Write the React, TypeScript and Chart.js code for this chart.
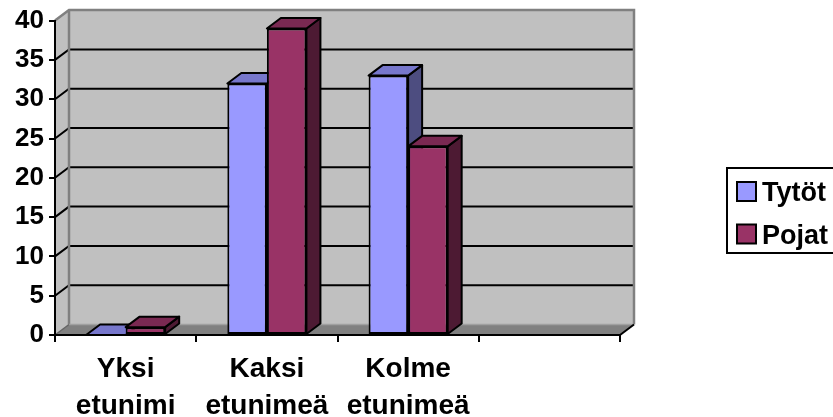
import React, { useEffect, useRef } from "react";
import { Chart, registerables } from "chart.js";

Chart.register(...registerables);

const categories: (string | string[])[] = [
  ["Yksi", "etunimi"],
  ["Kaksi", "etunimeä"],
  ["Kolme", "etunimeä"],
  "",
];
const seriesNames = ["Tytöt", "Pojat"];
const tytot: (number | null)[] = [0, 32, 33, null];
const pojat: (number | null)[] = [1, 39, 24, null];
const yMin = 0;
const yMax = 40;
const yStep = 5;

const frontColors = ["#9999FF", "#993366"];
const topColors = ["#7777CC", "#7A2952"];
const sideColors = ["#4D4D80", "#4D1A33"];

const FONT = "'Liberation Sans', Arial, sans-serif";
const DX = 14;
const DY = -10.5;

function poly(ctx: CanvasRenderingContext2D, pts: number[][]) {
  ctx.beginPath();
  ctx.moveTo(pts[0][0], pts[0][1]);
  for (let i = 1; i < pts.length; i++) ctx.lineTo(pts[i][0], pts[i][1]);
  ctx.closePath();
}

const depthPlugin = {
  id: "depth3d",
  beforeDraw(chart: any) {
    const { ctx, chartArea: a, scales } = chart;
    const y = scales.y;
    const L = a.left, R = a.right, T = a.top, B = a.bottom;
    ctx.save();
    ctx.fillStyle = "#C0C0C0";
    ctx.fillRect(L + DX, T + DY, R - L, B - T);
    poly(ctx, [[L, T], [L + DX, T + DY], [L + DX, B + DY], [L, B]]);
    ctx.fill();
    ctx.fillStyle = "#808080";
    poly(ctx, [[L, B], [R, B], [R + DX, B + DY], [L + DX, B + DY]]);
    ctx.fill();
    ctx.strokeStyle = "#000";
    ctx.lineWidth = 2;
    for (let v = yMin + yStep; v < yMax; v += yStep) {
      const py = y.getPixelForValue(v);
      ctx.beginPath();
      ctx.moveTo(L, py);
      ctx.lineTo(L + DX, py + DY);
      ctx.lineTo(R + DX, py + DY);
      ctx.stroke();
    }
    ctx.strokeStyle = "#808080";
    ctx.lineWidth = 2.5;
    ctx.beginPath();
    ctx.moveTo(L, T);
    ctx.lineTo(L + DX, T + DY);
    ctx.lineTo(R + DX, T + DY);
    ctx.lineTo(R + DX, B + DY);
    ctx.stroke();
    ctx.beginPath();
    ctx.moveTo(L + DX, T + DY);
    ctx.lineTo(L + DX, B + DY);
    ctx.stroke();
    ctx.strokeStyle = "#A0A0A0";
    ctx.lineWidth = 1.5;
    ctx.beginPath();
    ctx.moveTo(L + DX, B + DY);
    ctx.lineTo(R + DX, B + DY);
    ctx.stroke();
    ctx.strokeStyle = "#666";
    ctx.beginPath();
    ctx.moveTo(L, B);
    ctx.lineTo(L + DX, B + DY);
    ctx.stroke();
    ctx.strokeStyle = "#000";
    ctx.lineWidth = 2;
    ctx.beginPath();
    ctx.moveTo(R, B);
    ctx.lineTo(R + DX, B + DY);
    ctx.stroke();
    ctx.restore();
  },
  beforeDatasetsDraw(chart: any) {
    const { ctx } = chart;
    const n = chart.data.labels.length;
    ctx.save();
    ctx.strokeStyle = "#000";
    ctx.lineWidth = 2;
    ctx.lineJoin = "round";
    for (let i = 0; i < n; i++) {
      chart.data.datasets.forEach((ds: any, di: number) => {
        if (ds.data[i] === null || ds.data[i] === undefined) return;
        const el = chart.getDatasetMeta(di).data[i];
        const left = el.x - el.width / 2;
        const right = el.x + el.width / 2;
        const top = el.y;
        const base = el.base;
        ctx.fillStyle = sideColors[di];
        poly(ctx, [[right, top], [right + DX, top + DY], [right + DX, base + DY], [right, base]]);
        ctx.fill();
        ctx.stroke();
        ctx.fillStyle = topColors[di];
        poly(ctx, [[left, top], [right, top], [right + DX, top + DY], [left + DX, top + DY]]);
        ctx.fill();
        ctx.stroke();
      });
    }
    ctx.restore();
  },
  afterDraw(chart: any) {
    const { ctx } = chart;
    ctx.save();
    ctx.strokeStyle = "#000";
    ctx.lineWidth = 2;
    ctx.strokeRect(727, 168, 200, 85);
    ctx.font = `bold 27px ${FONT}`;
    ctx.textBaseline = "alphabetic";
    ctx.textAlign = "left";
    const rows = [182, 224.5];
    seriesNames.forEach((name, i) => {
      ctx.fillStyle = frontColors[i];
      ctx.fillRect(737, rows[i], 19, 19);
      ctx.strokeRect(737, rows[i], 19, 19);
      ctx.fillStyle = "#000";
      ctx.fillText(name, 762, rows[i] + 19);
    });
    ctx.restore();
  },
};

export default function App() {
  const ref = useRef<HTMLCanvasElement>(null);
  useEffect(() => {
    if (!ref.current) return;
    const chart = new Chart(ref.current, {
      type: "bar",
      data: {
        labels: categories,
        datasets: [
          {
            label: seriesNames[0],
            data: tytot,
            backgroundColor: frontColors[0],
            borderColor: "#000",
            borderWidth: 2,
            borderSkipped: false,
          },
          {
            label: seriesNames[1],
            data: pojat,
            backgroundColor: frontColors[1],
            borderColor: "#000",
            borderWidth: 2,
            borderSkipped: false,
          },
        ],
      },
      options: {
        responsive: false,
        animation: false,
        devicePixelRatio: 1,
        layout: { padding: { left: 0, top: 19, right: 213, bottom: 0 } },
        datasets: {
          bar: { barPercentage: 1, categoryPercentage: 0.56 },
        },
        plugins: {
          legend: { display: false },
          tooltip: { enabled: false },
          title: { display: false },
        },
        scales: {
          x: {
            offset: true,
            grid: {
              display: true,
              drawOnChartArea: false,
              drawTicks: true,
              tickLength: 7,
              color: "#000",
              lineWidth: 2,
              offset: true,
            },
            border: { display: true, color: "#000", width: 2 },
            ticks: {
              color: "#000",
              font: { family: FONT, size: 28, weight: "bold", lineHeight: 1.35 },
              maxRotation: 0,
              autoSkip: false,
              padding: 8,
            },
            afterFit(scale: any) {
              scale.height = 82;
            },
          },
          y: {
            min: yMin,
            max: yMax,
            grid: {
              display: true,
              drawOnChartArea: false,
              drawTicks: true,
              tickLength: 6,
              color: "#000",
              lineWidth: 2,
            },
            border: { display: true, color: "#000", width: 2 },
            ticks: {
              stepSize: yStep,
              color: "#000",
              font: { family: FONT, size: 26, weight: "bold" },
              padding: 5,
            },
            afterFit(scale: any) {
              scale.width = 55;
            },
          },
        },
      },
      plugins: [depthPlugin],
    });
    return () => chart.destroy();
  }, []);
  return (
    <div style={{ position: "fixed", left: 0, top: 0, width: 833, height: 417 }}>
      <canvas ref={ref} width={833} height={417} style={{ display: "block" }} />
    </div>
  );
}
